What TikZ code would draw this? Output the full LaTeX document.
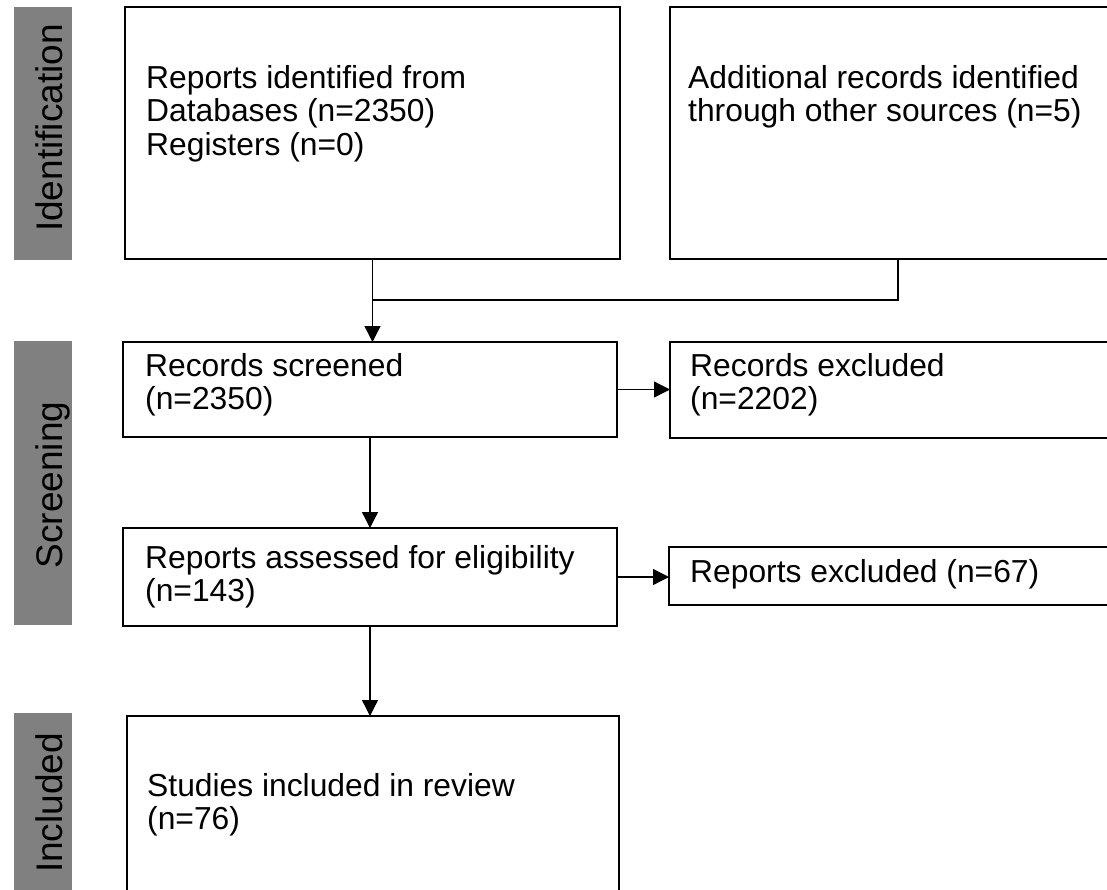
\documentclass[tikz,border=0pt]{standalone}
\usepackage{fontspec}
\setmainfont{Liberation Sans}
\usetikzlibrary{arrows.meta}
\definecolor{barGray}{HTML}{808080}
\begin{document}
\begin{tikzpicture}[x=1pt,y=-1pt,
  box/.style={draw=black, line width=1.8pt, anchor=north west, inner sep=0pt, outer sep=0pt},
  lbl/.style={anchor=north west, inner sep=0pt, align=left, font=\fontsize{31.8}{33.5}\selectfont},
  bar/.style={fill=barGray, anchor=north west, inner sep=0pt, outer sep=0pt, minimum width=58pt},
  barlbl/.style={rotate=90, anchor=base, inner sep=0pt, font=\fontsize{37}{40}\selectfont, text=black},
  conn/.style={line width=1.3pt},
  arr/.style={conn, -{Triangle[length=16pt,width=16pt]}}]
\useasboundingbox (0,0) rectangle (1107,889);
\clip (0,0) rectangle (1107,889);
\fill[white] (0,0) rectangle (1107,889);

% phase bars
\node[bar, minimum height=253pt] (g1) at (14,7) {};
\node[bar, minimum height=284pt] (g2) at (14,341) {};
\node[bar, minimum height=190pt] (g3) at (14,713) {};
\node[barlbl] (l1) at (62,128) {Identification};
\node[barlbl] (l2) at (62,485) {Screening};
\node[barlbl] (l3) at (62,803) {Included};

% boxes
\node[box, minimum width=495pt, minimum height=252pt] (b1) at (125,7) {};
\node[box, minimum width=456pt, minimum height=252pt] (b2) at (670,7) {};
\node[box, minimum width=494pt, minimum height=95pt] (b3) at (123,342) {};
\node[box, minimum width=460pt, minimum height=96pt] (ex1) at (670,342) {};
\node[box, minimum width=494pt, minimum height=98pt] (b4) at (123,528) {};
\node[box, minimum width=460pt, minimum height=58pt] (ex2) at (669,547) {};
\node[box, minimum width=492pt, minimum height=200pt] (b5) at (127,716) {};

% texts
\node[lbl] (t1) at (146,65) {Reports identified from\\Databases (n=2350)\\Registers (n=0)};
\node[lbl] (t2) at (688,65) {Additional records identified\\through other sources (n=5)};
\node[lbl] (t3) at (145,353) {Records screened\\(n=2350)};
\node[lbl] (t4) at (690,353) {Records excluded\\(n=2202)};
\node[lbl] (t5) at (145,545) {Reports assessed for eligibility\\(n=143)};
\node[lbl] (t6) at (690,559) {Reports excluded (n=67)};
\node[lbl] (t7) at (147,773) {Studies included in review\\(n=76)};

% connectors
\coordinate (j) at (372.5,300);
\draw[conn] (b2.south) |- (j);
\draw[arr] (b1.south) -- (b1.south |- b3.north);
\draw[arr] (b3.east) -- (b3.east -| ex1.west);
\draw[arr] (b3.south) -- (b3.south |- b4.north);
\draw[arr] (b4.east) -- (b4.east -| ex2.west);
\draw[arr] (b4.south) -- (b4.south |- b5.north);
\end{tikzpicture}
\end{document}
